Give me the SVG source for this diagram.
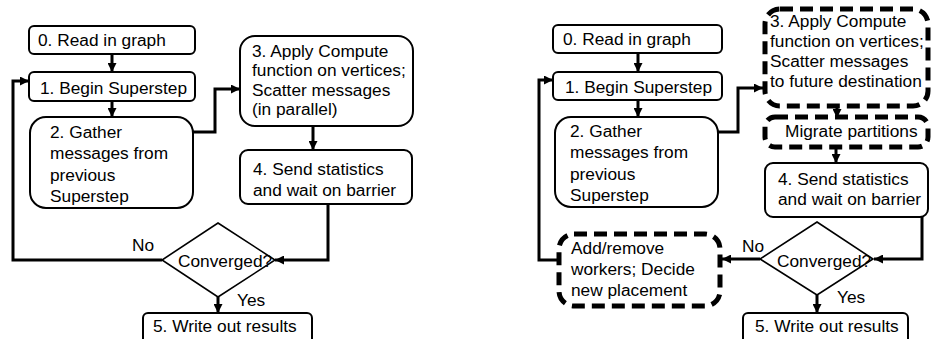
<svg xmlns="http://www.w3.org/2000/svg" width="932" height="339" viewBox="0 0 932 339">
<defs>
<style>
text{font-family:"Liberation Sans",Arial,sans-serif;font-size:17.3px;fill:#000}
.box{fill:#fff;stroke:#000;stroke-width:2}
.dash{fill:#fff;stroke:#000;stroke-width:5;stroke-dasharray:13 7}
.dia{fill:#fff;stroke:#000;stroke-width:1.6}
.con{fill:none;stroke:#000;stroke-width:3;marker-end:url(#ah)}
</style>
<marker id="ah" viewBox="0 0 10 10" refX="10" refY="5" markerWidth="9" markerHeight="9" markerUnits="userSpaceOnUse" orient="auto">
<path d="M0,0 L10,5 L0,10 z" fill="#000"/>
</marker>
</defs>
<rect width="932" height="339" fill="#fff"/>
<g id="connectors">
<path class="con" d="M112,54 L112,72"/>
<path class="con" d="M112,101 L112,117"/>
<path class="con" d="M193,132 L215,132 L215,89 L240,89"/>
<path class="con" d="M313,126 L313,150"/>
<path class="con" d="M328,204 L328,260 L275,260"/>
<path class="con" d="M162,260 L13,260 L13,81 L29,81"/>
<path class="con" d="M218,297 L218,313"/>
<path class="con" d="M638,53 L638,72"/>
<path class="con" d="M638,100 L638,117"/>
<path class="con" d="M718,132 L738,132 L738,88 L763,88"/>
<path class="con" d="M837,106 L837,118"/>
<path class="con" d="M836,148 L836,163"/>
<path class="con" d="M922,217 L922,259 L874,259"/>
<path class="con" d="M760,259 L722,259"/>
<path class="con" d="M557,260 L539,260 L539,80 L553,80"/>
<path class="con" d="M817,295 L817,313"/>
</g>
<g id="L0"><rect class="box" x="29" y="26" width="166" height="28" rx="5"/><text x="38" y="46">0. Read in graph</text></g>
<g id="L1"><rect class="box" x="29" y="72" width="166" height="29" rx="5"/><text x="40" y="94">1. Begin Superstep</text></g>
<g id="L2"><rect class="box" x="30" y="117" width="163" height="91" rx="16"/><text x="50" y="138">2. Gather</text><text x="50" y="159">messages from</text><text x="50" y="181">previous</text><text x="50" y="202">Superstep</text></g>
<g id="L3"><rect class="box" x="240" y="36" width="173" height="90" rx="15"/><text x="252" y="57">3. Apply Compute</text><text x="252" y="76">function on vertices;</text><text x="252" y="96">Scatter messages</text><text x="252" y="115">(in parallel)</text></g>
<g id="L4"><rect class="box" x="240" y="150" width="172" height="54" rx="8"/><text x="253" y="175">4. Send statistics</text><text x="253" y="196">and wait on barrier</text></g>
<g id="LC"><polygon class="dia" points="218,223 275,260 218,297 162,260"/><text x="178" y="267">Converged?</text></g>
<g id="L5"><rect class="box" x="143" y="313" width="169" height="40" rx="5"/><text x="153" y="332">5. Write out results</text></g>
<text x="132" y="251">No</text>
<text x="237" y="306">Yes</text>
<g id="R0"><rect class="box" x="553" y="25" width="169" height="28" rx="5"/><text x="563" y="45">0. Read in graph</text></g>
<g id="R1"><rect class="box" x="553" y="72" width="169" height="28" rx="5"/><text x="565" y="93">1. Begin Superstep</text></g>
<g id="R2"><rect class="box" x="555" y="117" width="163" height="90" rx="16"/><text x="570" y="137">2. Gather</text><text x="570" y="158">messages from</text><text x="570" y="180">previous</text><text x="570" y="201">Superstep</text></g>
<g id="R3"><rect class="dash" x="765" y="9" width="163" height="97" rx="15"/><text x="770" y="27">3. Apply Compute</text><text x="770" y="47">function on vertices;</text><text x="770" y="67">Scatter messages</text><text x="770" y="87">to future destination</text></g>
<g id="RM"><rect class="dash" x="765" y="117" width="163" height="30" rx="10"/><text x="785" y="137">Migrate partitions</text></g>
<g id="R4"><rect class="box" x="765" y="163" width="163" height="54" rx="8"/><text x="778" y="185">4. Send statistics</text><text x="778" y="205">and wait on barrier</text></g>
<g id="RC"><polygon class="dia" points="817,222 873,259 817,295 760,259"/><text x="777" y="267">Converged?</text></g>
<g id="RA"><rect class="dash" x="559" y="234" width="161" height="72" rx="15"/><text x="571" y="254">Add/remove</text><text x="571" y="275">workers; Decide</text><text x="571" y="296">new placement</text></g>
<g id="R5"><rect class="box" x="743" y="313" width="165" height="40" rx="5"/><text x="755" y="332">5. Write out results</text></g>
<text x="742" y="252">No</text>
<text x="837" y="303">Yes</text>
</svg>
